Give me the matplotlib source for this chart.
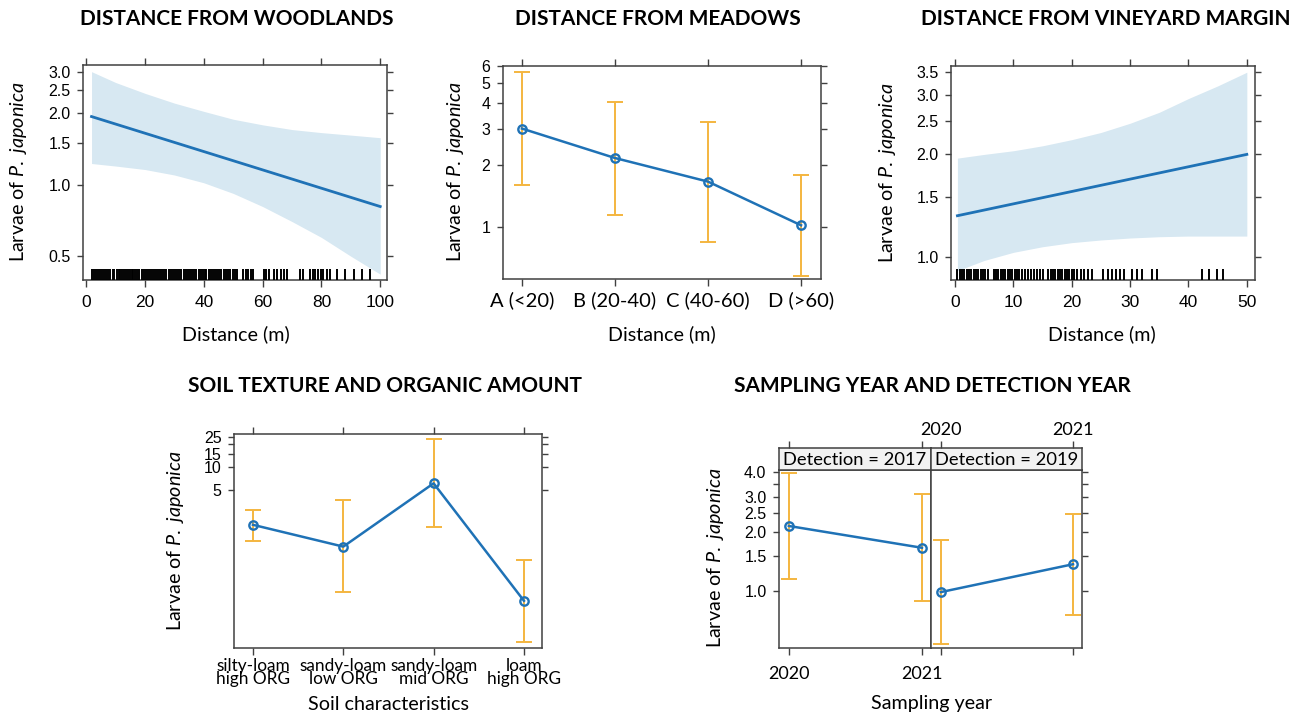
import matplotlib
matplotlib.use('Agg')
import matplotlib.pyplot as plt
from matplotlib.ticker import FixedLocator, FixedFormatter, NullLocator

plt.rcParams['mathtext.fontset'] = 'custom'
plt.rcParams['mathtext.it'] = 'Lato:italic'
plt.rcParams['mathtext.rm'] = 'Lato'
plt.rcParams['font.family'] = ['Lato', 'DejaVu Sans']

# ---------------- data ----------------
# Distance from woodlands
wood_line_x = [1.8, 100]
wood_line_y = [1.94, 0.81]
wood_band_x = [1.8, 10, 20, 30, 40, 50, 60, 70, 80, 90, 100]
wood_upper = [3.00, 2.70, 2.43, 2.21, 2.04, 1.89, 1.79, 1.71, 1.66, 1.62, 1.58]
wood_lower = [1.23, 1.20, 1.16, 1.10, 1.02, 0.92, 0.81, 0.70, 0.60, 0.50, 0.42]
wood_rug = [1.9, 2.5, 3.2, 4.0, 4.6, 5.5, 6.0, 6.8, 7.5, 8.1, 9.0, 9.6, 10.3, 11.0,
            11.5, 12.2, 12.9, 13.5, 14.1, 14.8, 15.4, 16.0, 16.7, 17.3, 18.0, 18.8,
            19.5, 20.3, 21.0, 21.6, 22.4, 23.0, 23.8, 24.5, 25.1, 25.8, 26.6, 27.3,
            28.0, 28.7, 29.5, 30.2, 31.0, 31.6, 32.4, 33.1, 33.9, 34.6, 35.3, 36.0,
            36.8, 37.5, 38.2, 39.0, 39.7, 40.3, 40.9, 41.6, 42.3, 43.1, 43.8, 44.6,
            45.3, 46.0, 46.8, 47.5, 48.3, 49.0, 49.8, 50.6, 51.3, 53.3, 54.2, 55.0,
            56.0, 56.8, 60.5, 61.2, 62.0, 63.7, 65.0, 66.2, 67.3, 68.3, 72.8, 73.8,
            76.2, 77.0, 77.9, 79.0, 79.8, 80.6, 81.9, 83.0, 85.3, 88.0, 91.0, 93.8, 96.6]
wood_yticks = [0.5, 1.0, 1.5, 2.0, 2.5, 3.0]
wood_xticks = [0, 20, 40, 60, 80, 100]

# Distance from meadows
mead_cats = ['A (<20)', 'B (20-40)', 'C (40-60)', 'D (>60)']
mead_fit = [3.0, 2.16, 1.66, 1.02]
mead_lower = [1.59, 1.15, 0.85, 0.58]
mead_upper = [5.66, 4.02, 3.22, 1.79]
mead_yticks = [1, 2, 3, 4, 5, 6]

# Distance from vineyard margin
vine_line_x = [0.4, 50]
vine_line_y = [1.32, 2.0]
vine_band_x = [0.4, 5, 10, 15, 20, 25, 30, 35, 40, 45, 50]
vine_upper = [1.95, 2.00, 2.05, 2.12, 2.21, 2.32, 2.47, 2.66, 2.92, 3.18, 3.49]
vine_lower = [0.91, 0.975, 1.03, 1.07, 1.10, 1.12, 1.135, 1.145, 1.15, 1.15, 1.15]
vine_rug = [0.4, 0.8, 1.2, 1.6, 2.0, 2.4, 2.8, 3.2, 3.6, 4.0, 4.4, 4.8, 5.2, 5.6, 6.6,
            7.0, 7.4, 7.8, 8.2, 8.6, 9.0, 9.4, 9.8, 10.2, 10.6, 11.0, 11.5, 12.0, 12.5,
            13.0, 13.5, 14.0, 14.5, 15.0, 16.0, 16.4, 16.8, 17.2, 17.6, 18.0, 18.4,
            18.8, 19.2, 19.6, 20.0, 20.3, 20.9, 21.5, 22.1, 22.8, 23.4, 25.4, 26.2,
            26.9, 27.6, 28.2, 28.9, 30.3, 31.1, 32.0, 33.7, 34.6, 42.3, 43.5, 44.9, 46.0]
vine_yticks = [1.0, 1.5, 2.0, 2.5, 3.0, 3.5]
vine_xticks = [0, 10, 20, 30, 40, 50]

# Soil texture
soil_cats = ['silty-loam\nhigh ORG', 'sandy-loam\nlow ORG', 'sandy-loam\nmid ORG', 'loam\nhigh ORG']
soil_fit = [1.74, 0.90, 6.1, 0.175]
soil_lower = [1.08, 0.225, 1.62, 0.050]
soil_upper = [2.73, 3.70, 23.1, 0.60]
soil_yticks = [5, 10, 15, 20, 25]
soil_ylabels = ['5', '10', '15', '', '25']

# Sampling year / detection year
years = [2020, 2021]
year_labels = ['2020', '2021']
det_2017_fit = [2.14, 1.66]
det_2017_lower = [1.15, 0.89]
det_2017_upper = [3.96, 3.10]
det_2019_fit = [0.99, 1.37]
det_2019_lower = [0.54, 0.76]
det_2019_upper = [1.81, 2.46]
year_yticks = [1.0, 1.5, 2.0, 2.5, 3.0, 3.5, 4.0]
year_ylabels = ['1.0', '1.5', '2.0', '2.5', '3.0', '', '4.0']

# ---------------- style ----------------
W, H = 1303, 714
fig = plt.figure(figsize=(W / 100, H / 100), dpi=100)

LINE = '#1f72b6'
BAND = '#d7e8f2'
ERR = '#f4b53f'
EDGE = '#404040'
NUMFONT = 'Liberation Sans'
YT = 11.5
XTN = 12.5
LAB = 14.2
TIT = 15
YLAB = r'Larvae of $P.\ japonica$'


def box(x0, y0, x1, y1):
    return fig.add_axes([x0 / W, 1 - y1 / H, (x1 - x0) / W, (y1 - y0) / H])


def ftext(x, y, s, **kw):
    kw.setdefault('ha', 'center')
    kw.setdefault('va', 'center')
    return fig.text(x / W, 1 - y / H, s, **kw)


def frame(ax):
    for s in ax.spines.values():
        s.set_color(EDGE)
        s.set_linewidth(1.1)
    ax.tick_params(which='both', direction='out', color=EDGE, width=1.0, length=5,
                   top=True, right=True, left=True, bottom=True,
                   labelright=False, labeltop=False)
    ax.tick_params(axis='y', which='both', length=4)


def logy(ax, ticks, labels, lim):
    ax.set_yscale('log')
    ax.set_ylim(*lim)
    ax.yaxis.set_major_locator(FixedLocator(ticks))
    ax.yaxis.set_major_formatter(FixedFormatter(labels))
    ax.yaxis.set_minor_locator(NullLocator())
    for t in ax.get_yticklabels():
        t.set_fontfamily(NUMFONT)
        t.set_fontsize(YT)
    ax.tick_params(axis='y', pad=5)


def err_points(ax, x, fit, lo, up):
    ax.errorbar(x, fit, yerr=[[f - l for f, l in zip(fit, lo)], [u - f for f, u in zip(fit, up)]],
                fmt='none', ecolor=ERR, elinewidth=1.4, capsize=6, capthick=1.4, zorder=2)
    ax.plot(x, fit, color=LINE, lw=1.8, zorder=3)
    ax.plot(x, fit, 'o', ms=6, mfc='none', mec=LINE, mew=1.7, zorder=4)


# ---- Panel 1: woodlands ----
ax1 = box(83, 65, 387, 280)
frame(ax1)
ax1.fill_between(wood_band_x, wood_lower, wood_upper, color=BAND, lw=0, zorder=1)
ax1.plot(wood_line_x, wood_line_y, color=LINE, lw=2.0, zorder=3)
ax1.vlines(wood_rug, 0, 0.05, transform=ax1.get_xaxis_transform(), color='black', lw=1.4, zorder=4)
ax1.set_xlim(-1.1, 102.3)
logy(ax1, wood_yticks, ['%.1f' % v for v in wood_yticks], (0.397, 3.20))
ax1.set_xticks(wood_xticks)
ax1.set_xticklabels([str(v) for v in wood_xticks], fontfamily=NUMFONT, fontsize=XTN)
ax1.tick_params(axis='x', pad=6)

# ---- Panel 2: meadows ----
ax2 = box(503, 66, 821, 279)
frame(ax2)
mx = list(range(1, len(mead_cats) + 1))
err_points(ax2, mx, mead_fit, mead_lower, mead_upper)
ax2.set_xlim(0.796, 4.215)
logy(ax2, mead_yticks, [str(v) for v in mead_yticks], (0.56, 6.03))
ax2.set_xticks(mx)
ax2.set_xticklabels(mead_cats, fontsize=14.5)
ax2.tick_params(axis='x', pad=4)

# ---- Panel 3: vineyard margin ----
ax3 = box(951, 66, 1255, 280)
frame(ax3)
ax3.fill_between(vine_band_x, vine_lower, vine_upper, color=BAND, lw=0, zorder=1)
ax3.plot(vine_line_x, vine_line_y, color=LINE, lw=2.0, zorder=3)
ax3.vlines(vine_rug, 0, 0.05, transform=ax3.get_xaxis_transform(), color='black', lw=1.4, zorder=4)
ax3.set_xlim(-0.7, 51.4)
logy(ax3, vine_yticks, ['%.1f' % v for v in vine_yticks], (0.854, 3.64))
ax3.set_xticks(vine_xticks)
ax3.set_xticklabels([str(v) for v in vine_xticks], fontfamily=NUMFONT, fontsize=XTN)
ax3.tick_params(axis='x', pad=6)

# ---- Panel 4: soil ----
ax4 = box(234, 434, 542, 648)
frame(ax4)
sx = list(range(1, len(soil_cats) + 1))
err_points(ax4, sx, soil_fit, soil_lower, soil_upper)
ax4.set_xlim(0.79, 4.2)
logy(ax4, soil_yticks, soil_ylabels, (0.042, 27.1))
ax4.set_xticks(sx)
ax4.set_xticklabels(soil_cats, fontsize=12.4, linespacing=0.82)
ax4.tick_params(axis='x', pad=2)

# ---- Panel 5: sampling / detection year ----
ax5a = box(779, 470, 931, 648)
ax5b = box(931, 470, 1082, 648)
for ax in (ax5a, ax5b):
    frame(ax)
    ax.set_xlim(2019.926, 2021.068)
    ax.set_xticks(years)
    logy(ax, year_yticks, year_ylabels, (0.516, 4.11))
err_points(ax5a, years, det_2017_fit, det_2017_lower, det_2017_upper)
err_points(ax5b, years, det_2019_fit, det_2019_lower, det_2019_upper)
ax5a.tick_params(axis='y', right=False)
ax5a.tick_params(axis='x', top=False, pad=8)
ax5a.set_xticklabels(year_labels, fontsize=13)
ax5b.tick_params(axis='y', left=False, labelleft=False)
ax5b.tick_params(axis='x', top=False, labelbottom=False)

for (x0, x1), lab, labtop in (((779, 931), 'Detection = 2017', False),
                              ((931, 1082), 'Detection = 2019', True)):
    s = box(x0, 448, x1, 470)
    s.set_facecolor('#f2f2f2')
    for sp in s.spines.values():
        sp.set_color(EDGE)
        sp.set_linewidth(1.1)
    s.set_xlim(2019.926, 2021.068)
    s.set_ylim(0, 1)
    s.set_yticks([])
    s.set_xticks(years)
    s.tick_params(axis='x', direction='out', color=EDGE, width=1.0, length=5,
                  top=True, bottom=False, labelbottom=False, labeltop=labtop, pad=2)
    if labtop:
        s.set_xticklabels(year_labels, fontsize=13)
    s.text(0.5, 0.45, lab, transform=s.transAxes, ha='center', va='center', fontsize=13.2)

# ---------------- titles & labels ----------------
ftext(237, 19, 'DISTANCE FROM WOODLANDS', fontsize=TIT, fontweight='bold')
ftext(658, 19, 'DISTANCE FROM MEADOWS', fontsize=TIT, fontweight='bold')
ftext(1106, 19, 'DISTANCE FROM VINEYARD MARGIN', fontsize=TIT, fontweight='bold')
ftext(385, 386, 'SOIL TEXTURE AND ORGANIC AMOUNT', fontsize=TIT, fontweight='bold')
ftext(932, 386, 'SAMPLING YEAR AND DETECTION YEAR', fontsize=TIT, fontweight='bold')

ftext(236, 334, 'Distance (m)', fontsize=LAB)
ftext(662, 334, 'Distance (m)', fontsize=LAB)
ftext(1102, 334, 'Distance (m)', fontsize=LAB)
ftext(388, 705, 'Soil characteristics', fontsize=LAB)
ftext(932, 703, 'Sampling year', fontsize=LAB)

ftext(19, 172, YLAB, fontsize=LAB, rotation=90)
ftext(455, 172, YLAB, fontsize=LAB, rotation=90)
ftext(887, 173, YLAB, fontsize=LAB, rotation=90)
ftext(175, 541, YLAB, fontsize=LAB, rotation=90)
ftext(715, 558, YLAB, fontsize=LAB, rotation=90)

fig.savefig('out.png', dpi=100)
